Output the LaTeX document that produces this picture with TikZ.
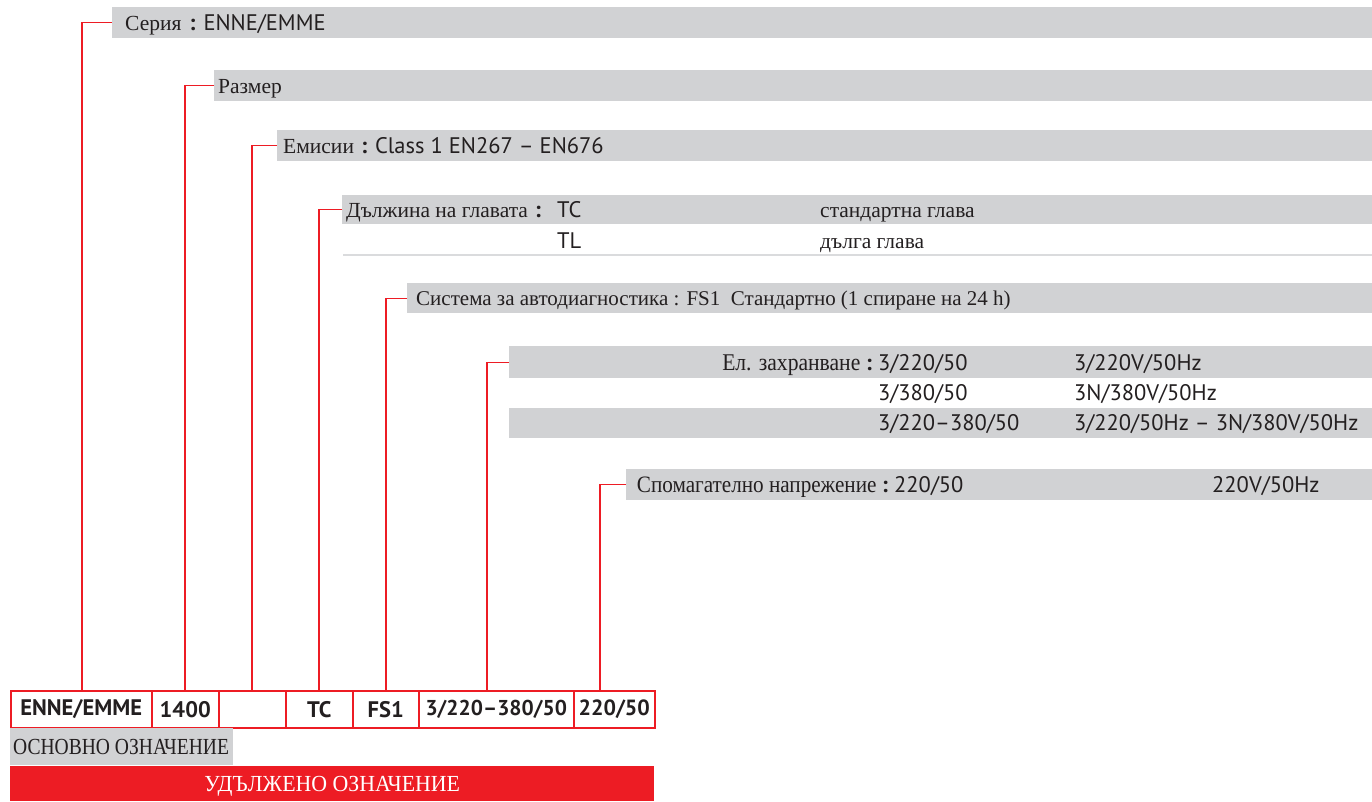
\documentclass[tikz,border=0pt]{standalone}
\usepackage{fontspec}
\setmainfont{Liberation Serif}
\newfontfamily\sans{PT Sans}
\newfontfamily\cond[FakeStretch=0.9]{Liberation Serif}
\newfontfamily\condb[FakeStretch=0.85]{Liberation Serif}
\newfontfamily\condc[FakeStretch=0.95]{Liberation Serif}
\usetikzlibrary{calc}
\definecolor{bargray}{RGB}{209,210,212}
\definecolor{brandred}{RGB}{237,28,36}
\definecolor{ink}{RGB}{35,31,32}
\tikzset{
  bar/.style={fill=bargray, draw=none, anchor=north west, inner sep=0pt, minimum height=31pt},
  lbl/.style={anchor=base west, inner sep=0pt, text=ink, font=\fontsize{21.5}{24}\selectfont},
  lble/.style={anchor=base east, inner sep=0pt, text=ink, font=\fontsize{21.5}{24}\selectfont},
  sn/.style={anchor=base west, inner sep=0pt, text=ink, font=\sans\fontsize{22.5}{24}\selectfont},
  conn/.style={draw=brandred, line width=1.2pt},
  codebox/.style={draw=brandred, line width=1.5pt, anchor=north west, inner sep=0pt, minimum height=37pt, text=ink, font=\sans\bfseries\fontsize{22.5}{24}\selectfont},
}
\newcommand{\bcolon}{{\sans\bfseries\fontsize{22.5}{24}\selectfont :}}
\newcommand{\sv}[1]{{\sans\fontsize{22.5}{24}\selectfont #1}}
\begin{document}
\begin{tikzpicture}[x=1pt,y=-1pt]
\useasboundingbox (0,0) rectangle (1372,801);
% bars
\node[bar, minimum width=1260pt] (bar1) at (112,7) {};
\node[bar, minimum width=1158pt] (bar2) at (214,70) {};
\node[bar, minimum width=1095pt] (bar3) at (277,130) {};
\node[bar, minimum width=1030pt, minimum height=29pt] (bar4) at (342,195) {};
\node[bar, minimum width=965pt, minimum height=30pt] (bar5) at (407,283) {};
\node[bar, minimum width=863pt, minimum height=32pt] (bar6) at (509,346) {};
\node[bar, minimum width=863pt, minimum height=30pt] (bar6c) at (509,408) {};
\node[bar, minimum width=746pt] (bar7) at (626,469) {};
\coordinate (sepL) at (343,255);
\coordinate (sepR) at (1372,255);
\draw[draw=bargray!80, line width=2.5pt] (sepL) -- (sepR);

% texts
\node[lbl] (t1) at (125,30) {Серия\hspace{8pt}\bcolon\hspace{8pt}\sv{ENNE/EMME}};
\node[lbl] (t2) at (218,93) {Размер};
\node[lbl] (t3) at (283,153) {Емисии\hspace{7pt}\bcolon\hspace{8pt}\sv{Class 1 EN267 – EN676}};
\node[lbl] (t4) at (346,217) {Дължина на главата\hspace{7pt}\bcolon};
\node[sn] (t4b) at (557,217) {TC};
\node[lbl] (t4c) at (820,217) {стандартна глава};
\node[sn] (t4d) at (557,248) {TL};
\node[lbl] (t4e) at (820,248) {дълга глава};
\node[lbl, font=\fontsize{21}{24}\selectfont] (t5) at (416,305.5) {Система за автодиагностика : FS1\ \ Стандартно (1 спиране на 24 h)};
\node[lble, font=\cond\fontsize{24}{26}\selectfont] (t6) at (872,370) {Ел. захранване \bcolon};
\node[sn] (t6a) at (878,370) {3/220/50};
\node[sn] (t6b) at (1074,370) {3/220V/50Hz};
\node[sn] (t6c) at (878,400) {3/380/50};
\node[sn] (t6d) at (1074,400) {3N/380V/50Hz};
\node[sn] (t6e) at (878,430) {3/220–380/50};
\node[sn] (t6f) at (1074,430) {3/220/50Hz – 3N/380V/50Hz};
\node[lble, font=\cond\fontsize{23.5}{26}\selectfont] (t7) at (888,492) {Спомагателно напрежение \bcolon};
\node[sn] (t7a) at (894,492) {220/50};
\node[sn] (t7b) at (1212,492) {220V/50Hz};

% code boxes
\node[codebox, minimum width=141pt] (b1) at (10,690) {ENNE/EMME};
\node[codebox, minimum width=67pt] (b2) at (151,690) {1400};
\node[codebox, minimum width=67pt] (b3) at (218,690) {};
\node[codebox, minimum width=67pt] (b4) at (285,690) {TC};
\node[codebox, minimum width=66pt] (b5) at (352,690) {FS1};
\node[codebox, minimum width=155pt, font=\sans\bfseries\fontsize{21.5}{24}\selectfont] (b6) at (418,690) {3/220–380/50};
\node[codebox, minimum width=81pt, font=\sans\bfseries\fontsize{22}{24}\selectfont] (b7) at (573,690) {220/50};

\node[bar, minimum width=223pt, minimum height=37pt] (basic) at (10,728) {};
\node[anchor=base west, inner sep=0pt, text=ink, font=\condb\fontsize{23}{24}\selectfont] (basict) at (13,754) {ОСНОВНО ОЗНАЧЕНИЕ};
\node[fill=brandred, anchor=north west, inner sep=0pt, minimum width=644pt, minimum height=35pt] (ext) at (10,766) {};
\node[text=white, anchor=base, inner sep=0pt, font=\condc\fontsize{23}{24}\selectfont] (extt) at ($(ext.center)+(0,8)$) {УДЪЛЖЕНО ОЗНАЧЕНИЕ};

% connectors
\draw[conn] (bar1.west) -| ([xshift=72pt]b1.north west);
\draw[conn] (bar2.west) -| ([xshift=34pt]b2.north west);
\draw[conn] (bar3.west) -| ([xshift=34pt]b3.north west);
\draw[conn] (bar4.west) -| ([xshift=34pt]b4.north west);
\draw[conn] (bar5.west) -| ([xshift=34pt]b5.north west);
\draw[conn] (bar6.west) -| ([xshift=69pt]b6.north west);
\draw[conn] (bar7.west) -| ([xshift=27pt]b7.north west);
\end{tikzpicture}
\end{document}
